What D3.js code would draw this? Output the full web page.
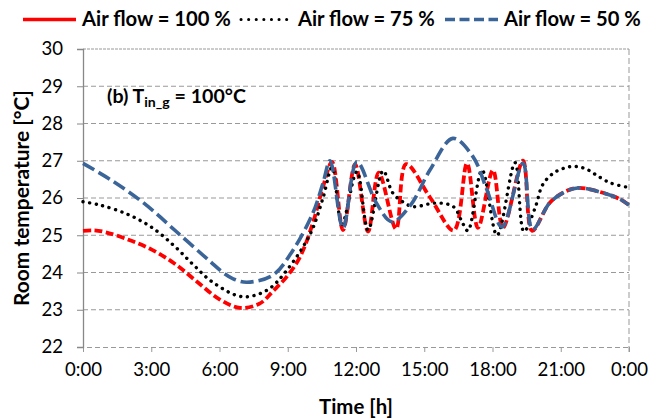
<!DOCTYPE html>
<html>
<head>
<meta charset="utf-8">
<script src="https://cdn.jsdelivr.net/npm/d3@7"></script>
<style>
  body { margin: 0; background: #fff; }
  text { font-family: Lato, "Open Sans", sans-serif; }
</style>
</head>
<body>
<div id="chart"></div>
<script>
// series labels
const seriesNames = ["Air flow = 100 %", "Air flow = 75 %", "Air flow = 50 %"];

// Air flow = 100 %  (time in hours, temperature in °C)
const hours100 = [0, 0.5, 1, 2, 3, 4, 5, 6, 6.9, 7.78, 8.35, 8.96, 9.54, 10.1, 10.55, 10.95,
  11.43, 11.96, 12.53, 13.0, 13.76, 14.2, 15.25, 16.3, 16.88, 17.36, 18.02, 18.46, 19.34, 19.74,
  20.5, 21.1, 21.75, 22.85, 23.6, 24];
const temp100 = [25.12, 25.13, 25.08, 24.88, 24.62, 24.25, 23.76, 23.28, 23.05, 23.17, 23.5, 23.89, 24.42, 25.32, 26.3, 26.97,
  25.14, 26.9, 25.1, 26.68, 25.17, 26.91, 26.02, 25.13, 26.93, 25.2, 26.75, 25.2, 27.0, 25.12,
  25.86, 26.14, 26.27, 26.14, 25.97, 25.81];

// Air flow = 75 %
const hours75 = [0, 0.75, 1.93, 3.0, 4.0, 4.83, 5.7, 7.0, 8.1, 8.97, 10.0, 10.55, 10.95,
  11.38, 12.04, 12.53, 13.19, 13.6, 14.0, 14.5, 15.4, 16.0, 16.35, 16.66, 16.92, 17.54, 18.2, 18.99, 19.38,
  19.87, 20.2, 20.66, 21.05, 21.4, 21.76, 22.15, 22.5, 23.16, 24];
const temp75 = [25.9, 25.81, 25.57, 25.22, 24.72, 24.22, 23.74, 23.35, 23.53, 24.07, 25.05, 26.0, 26.82,
  25.3, 26.71, 25.14, 26.73, 26.15, 25.92, 25.77, 25.86, 25.84, 25.73, 25.36, 25.12, 26.75, 25.0, 26.95, 25.1,
  25.73, 26.35, 26.66, 26.78, 26.84, 26.84, 26.77, 26.64, 26.41, 26.28];

// Air flow = 50 %
const hours50 = [0, 1.19, 2.64, 4.1, 5.58, 6.15, 6.6, 7.2, 8.35, 9.23, 10.1, 10.55, 10.86,
  11.43, 12.04, 12.9, 13.58, 14.4, 15.25, 16.26, 17.14, 17.76, 18.42, 19.34, 19.76,
  20.5, 21.1, 21.75, 22.85, 23.6, 24];
const temp50 = [26.93, 26.5, 25.88, 25.1, 24.3, 24.0, 23.83, 23.74, 23.93, 24.6, 25.59, 26.4, 27.0,
  25.19, 26.97, 25.86, 25.36, 25.81, 26.75, 27.6, 27.11, 26.21, 25.22, 26.94, 25.15,
  25.86, 26.14, 26.27, 26.14, 25.97, 25.81];

const yTicks = [22, 23, 24, 25, 26, 27, 28, 29, 30];
const xTicks = [0, 3, 6, 9, 12, 15, 18, 21, 24];

const width = 664, height = 420;
const svg = d3.select("#chart").append("svg")
  .attr("width", width).attr("height", height);

const x = d3.scaleLinear().domain([0, 24]).range([83, 629]);
const y = d3.scaleLinear().domain([22, 30]).range([347, 49]);

// scale a text's font size so that it has the wanted width
function fit(sel, target) {
  const w = sel.node().getComputedTextLength();
  const fs = parseFloat(sel.attr("font-size"));
  sel.attr("font-size", fs * target / w);
  return fs * target / w;
}

// horizontal grid
svg.append("g")
  .selectAll("line")
  .data(yTicks.slice(1))
  .join("line")
  .attr("x1", x(0)).attr("x2", x(24))
  .attr("y1", d => y(d)).attr("y2", d => y(d))
  .attr("stroke", "#999")
  .attr("stroke-width", 1)
  .attr("stroke-dasharray", d => d === 30 ? "3,1" : "5,3");

// bottom axis
const xAxis = svg.append("g")
  .attr("transform", `translate(0,${y(22)})`)
  .call(d3.axisBottom(x).tickValues(xTicks).tickSize(5).tickPadding(11)
    .tickFormat(h => (h % 24) + ":00"));
xAxis.select(".domain").attr("stroke", "#999").attr("stroke-dasharray", "5,3");
xAxis.selectAll(".tick line").attr("stroke", "#999");
xAxis.selectAll(".tick text").attr("fill", "#000").attr("font-size", 16);

// right border
svg.append("line")
  .attr("x1", x(24)).attr("x2", x(24))
  .attr("y1", y(30)).attr("y2", y(22) + 5)
  .attr("stroke", "#999")
  .attr("stroke-dasharray", "6,3");

// left axis
const yAxis = svg.append("g")
  .attr("transform", `translate(${x(0)},0)`)
  .call(d3.axisLeft(y).tickValues(yTicks).tickSize(6).tickPadding(14));
yAxis.select(".domain").attr("stroke", "#888").attr("stroke-width", 1.3);
yAxis.selectAll(".tick line").attr("stroke", "#888");
yAxis.selectAll(".tick text").attr("fill", "#000").attr("font-size", 16);

const tickFs = fit(xAxis.select(".tick text"), 37);
xAxis.selectAll(".tick text").attr("font-size", tickFs);
yAxis.selectAll(".tick text").attr("font-size", tickFs);

// lines
const styles = [
  { color: "#ff0000", width: 3.8, dash: "8,3.5", cap: "butt" },
  { color: "#000000", width: 3.4, dash: "0.1,6.6", cap: "round" },
  { color: "#3b6598", width: 3.6, dash: "13,5", cap: "butt" }
];
const seriesData = [
  hours100.map((h, i) => [h, temp100[i]]),
  hours75.map((h, i) => [h, temp75[i]]),
  hours50.map((h, i) => [h, temp50[i]])
];

const line = d3.line()
  .x(d => x(d[0]))
  .y(d => y(d[1]))
  .curve(d3.curveCatmullRom.alpha(0.5));

svg.append("g")
  .selectAll("path")
  .data(seriesData)
  .join("path")
  .attr("d", line)
  .attr("fill", "none")
  .attr("stroke", (d, i) => styles[i].color)
  .attr("stroke-width", (d, i) => styles[i].width)
  .attr("stroke-dasharray", (d, i) => styles[i].dash)
  .attr("stroke-linecap", (d, i) => styles[i].cap);

// legend
const legendX = [[23, 76, 82, 231], [241, 293, 298, 435], [445, 498, 504, 641]];
const legendStyles = [
  { dash: null, width: 3.5 },
  { dash: "0.1,7.5", width: 3 },
  { dash: "10,4.5", width: 3.5 }
];
seriesNames.forEach((name, i) => {
  const [l1, l2, t1, t2] = legendX[i];
  svg.append("line")
    .attr("x1", l1).attr("x2", l2)
    .attr("y1", 19.5).attr("y2", 19.5)
    .attr("stroke", styles[i].color)
    .attr("stroke-width", legendStyles[i].width)
    .attr("stroke-dasharray", legendStyles[i].dash)
    .attr("stroke-linecap", i === 1 ? "round" : "butt");
  const t = svg.append("text")
    .attr("x", t1).attr("y", 26)
    .attr("font-size", 17)
    .attr("font-weight", "bold")
    .text(name);
  fit(t, t2 - t1);
});

// annotation
const note = svg.append("text")
  .attr("x", 107).attr("y", 103)
  .attr("font-size", 16)
  .attr("font-weight", "bold");
note.append("tspan").text("(b) T");
note.append("tspan").attr("font-size", "0.72em").attr("dy", 4).text("in_g");
note.append("tspan").attr("dy", -4).text(" = 100°C");
fit(note, 139);

// axis titles
const xt = svg.append("text")
  .attr("x", (x(0) + x(24)) / 2).attr("y", 414)
  .attr("text-anchor", "middle")
  .attr("font-size", 17)
  .attr("font-weight", "bold")
  .text("Time [h]");
fit(xt, 74);

const yt = svg.append("text")
  .attr("transform", `translate(29,${(y(22) + y(30)) / 2}) rotate(-90)`)
  .attr("text-anchor", "middle")
  .attr("font-size", 17)
  .attr("font-weight", "bold")
  .text("Room temperature [°C]");
fit(yt, 216);
</script>
</body>
</html>
